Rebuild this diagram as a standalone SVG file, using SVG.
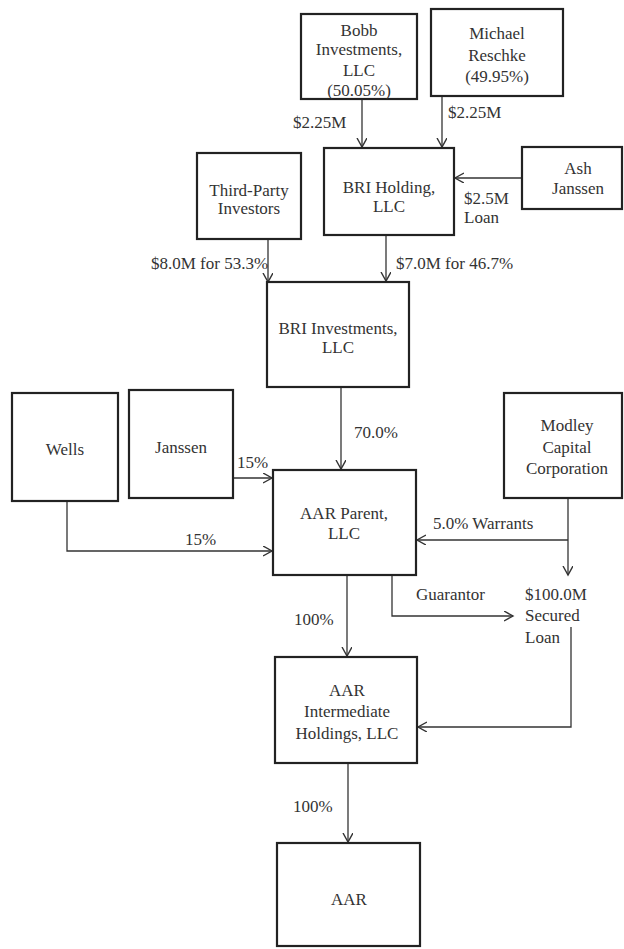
<svg xmlns="http://www.w3.org/2000/svg" width="624" height="949" viewBox="0 0 624 949">
<style>
.box{fill:#fff;stroke:#222;stroke-width:2.2}
.t{font-family:'Liberation Serif','DejaVu Serif',serif;font-size:17px;fill:#333}
.c{text-anchor:middle}
.ln{fill:none;stroke:#333;stroke-width:1.3}
</style>
<defs>
<marker id="ar" markerUnits="userSpaceOnUse" markerWidth="12" markerHeight="12" refX="9" refY="5" orient="auto">
<path d="M0,0 L9,5 L0,10" fill="none" stroke="#333" stroke-width="1.4"/>
</marker>
</defs>
<rect width="624" height="949" fill="#fff"/>
<g id="connectors">
<path class="ln" d="M362 99 V147" marker-end="url(#ar)"/>
<path class="ln" d="M442 96 V147" marker-end="url(#ar)"/>
<path class="ln" d="M522 178 H455" marker-end="url(#ar)"/>
<path class="ln" d="M268 239 V282" marker-end="url(#ar)"/>
<path class="ln" d="M386 235 V281" marker-end="url(#ar)"/>
<path class="ln" d="M341 387 V469" marker-end="url(#ar)"/>
<path class="ln" d="M233 478 H272" marker-end="url(#ar)"/>
<path class="ln" d="M67 501 V551 H272" marker-end="url(#ar)"/>
<path class="ln" d="M568 498 V575" marker-end="url(#ar)"/>
<path class="ln" d="M568 540 H417" marker-end="url(#ar)"/>
<path class="ln" d="M392 575 V616 H513" marker-end="url(#ar)"/>
<path class="ln" d="M347 575 V656" marker-end="url(#ar)"/>
<path class="ln" d="M571 627 V727 H418" marker-end="url(#ar)"/>
<path class="ln" d="M348 763 V842" marker-end="url(#ar)"/>
<text class="t" x="293" y="128">$2.25M</text>
<text class="t" x="448" y="118">$2.25M</text>
<text class="t" x="464" y="204">$2.5M</text>
<text class="t" x="464" y="223">Loan</text>
<text class="t" x="151" y="269">$8.0M for 53.3%</text>
<text class="t" x="396" y="269">$7.0M for 46.7%</text>
<text class="t" x="354" y="438">70.0%</text>
<text class="t" x="237" y="468">15%</text>
<text class="t" x="185" y="545">15%</text>
<text class="t" x="433" y="529">5.0% Warrants</text>
<text class="t" x="416" y="600">Guarantor</text>
<text class="t" x="525" y="600">$100.0M</text>
<text class="t" x="525" y="621">Secured</text>
<text class="t" x="525" y="643">Loan</text>
<text class="t" x="294" y="625">100%</text>
<text class="t" x="293" y="812">100%</text>
</g>
<g id="bobb">
<rect class="box" x="301" y="14" width="116" height="85"/>
<text class="t c" x="359" y="36">Bobb</text>
<text class="t c" x="359" y="55">Investments,</text>
<text class="t c" x="359" y="76">LLC</text>
<text class="t c" x="359" y="96">(50.05%)</text>
</g>
<g id="michael">
<rect class="box" x="431" y="9" width="132" height="87"/>
<text class="t c" x="497" y="39">Michael</text>
<text class="t c" x="497" y="61">Reschke</text>
<text class="t c" x="497" y="82">(49.95%)</text>
</g>
<g id="third-party">
<rect class="box" x="197" y="153" width="104" height="86"/>
<text class="t c" x="249" y="196">Third-Party</text>
<text class="t c" x="249" y="214">Investors</text>
</g>
<g id="bri-holding">
<rect class="box" x="324" y="148" width="130" height="87"/>
<text class="t c" x="389" y="193">BRI Holding,</text>
<text class="t c" x="389" y="212">LLC</text>
</g>
<g id="ash">
<rect class="box" x="522" y="147" width="100" height="62"/>
<text class="t c" x="578" y="174">Ash</text>
<text class="t c" x="578" y="194">Janssen</text>
</g>
<g id="bri-investments">
<rect class="box" x="267" y="282" width="142" height="105"/>
<text class="t c" x="338" y="334">BRI Investments,</text>
<text class="t c" x="338" y="353">LLC</text>
</g>
<g id="wells">
<rect class="box" x="12" y="393" width="106" height="108"/>
<text class="t c" x="65" y="455">Wells</text>
</g>
<g id="janssen">
<rect class="box" x="129" y="390" width="104" height="108"/>
<text class="t c" x="181" y="453">Janssen</text>
</g>
<g id="modley">
<rect class="box" x="504" y="393" width="118" height="105"/>
<text class="t c" x="567" y="431">Modley</text>
<text class="t c" x="567" y="453">Capital</text>
<text class="t c" x="567" y="474">Corporation</text>
</g>
<g id="aar-parent">
<rect class="box" x="273" y="470" width="143" height="105"/>
<text class="t c" x="344" y="519">AAR Parent,</text>
<text class="t c" x="344" y="539">LLC</text>
</g>
<g id="aar-intermediate">
<rect class="box" x="275" y="657" width="142" height="106"/>
<text class="t c" x="347" y="696">AAR</text>
<text class="t c" x="347" y="717">Intermediate</text>
<text class="t c" x="347" y="739">Holdings, LLC</text>
</g>
<g id="aar">
<rect class="box" x="277" y="843" width="143" height="103"/>
<text class="t c" x="349" y="905">AAR</text>
</g>
</svg>
